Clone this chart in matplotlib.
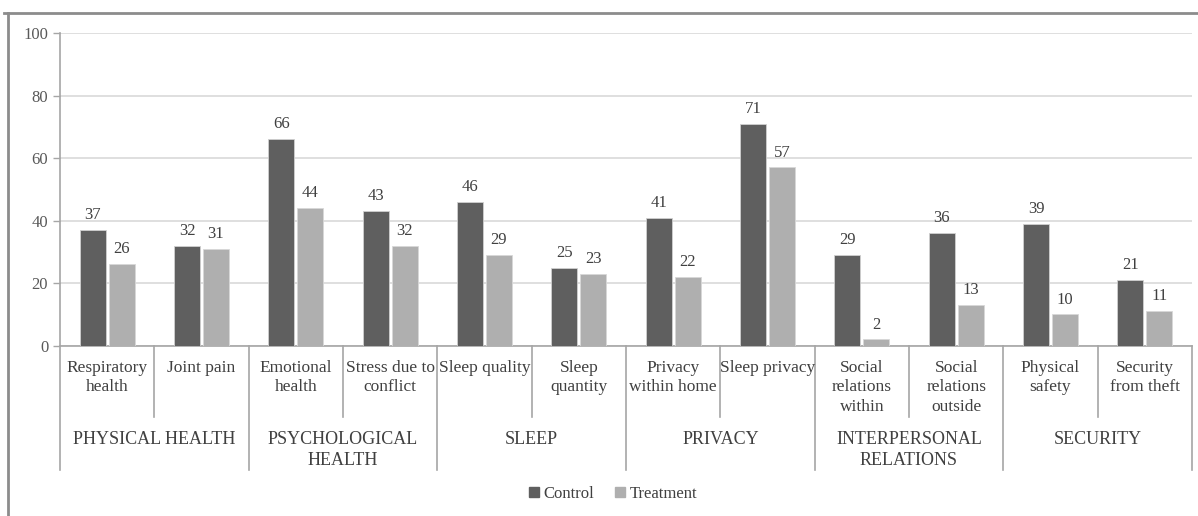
import matplotlib.pyplot as plt
from matplotlib.patches import Patch
from matplotlib.lines import Line2D
import numpy as np

# Indicateurs et groupes
sous_categories = ["Respiratory\nhealth", "Joint pain", "Emotional\nhealth", "Stress due to\nconflict",
                   "Sleep quality", "Sleep\nquantity", "Privacy\nwithin home", "Sleep privacy",
                   "Social\nrelations\nwithin", "Social\nrelations\noutside", "Physical\nsafety",
                   "Security\nfrom theft"]
groupes = ["PHYSICAL HEALTH", "PSYCHOLOGICAL\nHEALTH", "SLEEP", "PRIVACY",
           "INTERPERSONAL\nRELATIONS", "SECURITY"]
taille_groupes = [2, 2, 2, 2, 2, 2]

controle = [37, 32, 66, 43, 46, 25, 41, 71, 29, 36, 39, 21]
traitement = [26, 31, 44, 32, 29, 23, 22, 57, 2, 13, 10, 11]

plt.rcParams['font.family'] = ['Liberation Serif', 'DejaVu Serif']

couleur_ctrl = "#5f5f5f"
couleur_trt = "#afafaf"
gris_axe = "#a6a6a6"
gris_texte = "#404040"

fig = plt.figure(figsize=(11.98, 5.16), dpi=100)
ax = fig.add_axes([0.0501, 0.33, 0.9449, 0.606])

x = np.arange(len(sous_categories))
largeur = 0.276
b1 = ax.bar(x - 0.153, controle, largeur, color=couleur_ctrl, edgecolor="#d0d0d0", linewidth=0.6, zorder=3)
b2 = ax.bar(x + 0.153, traitement, largeur, color=couleur_trt, edgecolor="#d8d8d8", linewidth=0.6, zorder=3)

# Valeurs au-dessus des barres
for barres, valeurs in ((b1, controle), (b2, traitement)):
    for b, v in zip(barres, valeurs):
        ax.annotate(f"{v}", (b.get_x() + b.get_width() / 2, v), xytext=(0, 5),
                    textcoords="offset points", ha="center", va="bottom",
                    fontsize=12, color=gris_texte)

ax.set_xlim(-0.5, len(sous_categories) - 0.5)
ax.set_ylim(0, 100)
ax.set_yticks(range(0, 101, 20))
ax.tick_params(axis="y", colors=gris_axe, labelcolor="#595959", labelsize=12, length=5, width=1)
ax.tick_params(axis="x", bottom=False, labelbottom=False)
ax.grid(axis="y", color="#d9d9d9", linewidth=1.2, zorder=0)
for cote in ("top", "right"):
    ax.spines[cote].set_visible(False)
ax.spines["left"].set_color(gris_axe)
ax.spines["bottom"].set_color(gris_axe)
ax.spines["left"].set_linewidth(1.2)
ax.spines["bottom"].set_linewidth(1.2)

# Axe des catégories à deux niveaux
trans = ax.get_xaxis_transform()
bas_sous, bas_groupe = -0.228, -0.397
for i, nom in enumerate(sous_categories):
    ax.text(i, -0.045, nom, transform=trans, ha="center", va="top", fontsize=12.5,
            color=gris_texte, linespacing=1.3)

bords = np.concatenate([[0], np.cumsum(taille_groupes)]) - 0.5
for k in range(len(sous_categories) + 1):
    xb = k - 0.5
    y_bas = bas_groupe if np.isclose(bords, xb).any() else bas_sous
    ax.add_line(Line2D([xb, xb], [0, y_bas], transform=trans, color=gris_axe,
                       linewidth=1.2, clip_on=False))

for g, nom in enumerate(groupes):
    centre = (bords[g] + bords[g + 1]) / 2
    ax.text(centre, -0.272, nom, transform=trans, ha="center", va="top", fontsize=13,
            color=gris_texte, linespacing=1.3)

# Légende
poignees = [Patch(color=couleur_ctrl, label="Control"), Patch(color=couleur_trt, label="Treatment")]
fig.legend(handles=poignees, loc="center", bbox_to_anchor=(613 / 1198, 1 - 494 / 516), ncol=2,
           frameon=False, fontsize=12, handlelength=0.6, handleheight=0.6, handletextpad=0.3,
           columnspacing=1.2, labelcolor=gris_texte)

# Cadre de la zone graphique
fig.add_artist(Line2D([4 / 1198, 1], [1 - 13 / 516] * 2, transform=fig.transFigure,
                      color="#8c8c8c", linewidth=2))
fig.add_artist(Line2D([8 / 1198] * 2, [0, 1 - 13 / 516], transform=fig.transFigure,
                      color="#8c8c8c", linewidth=2))

fig.savefig("out.png", dpi=100)
